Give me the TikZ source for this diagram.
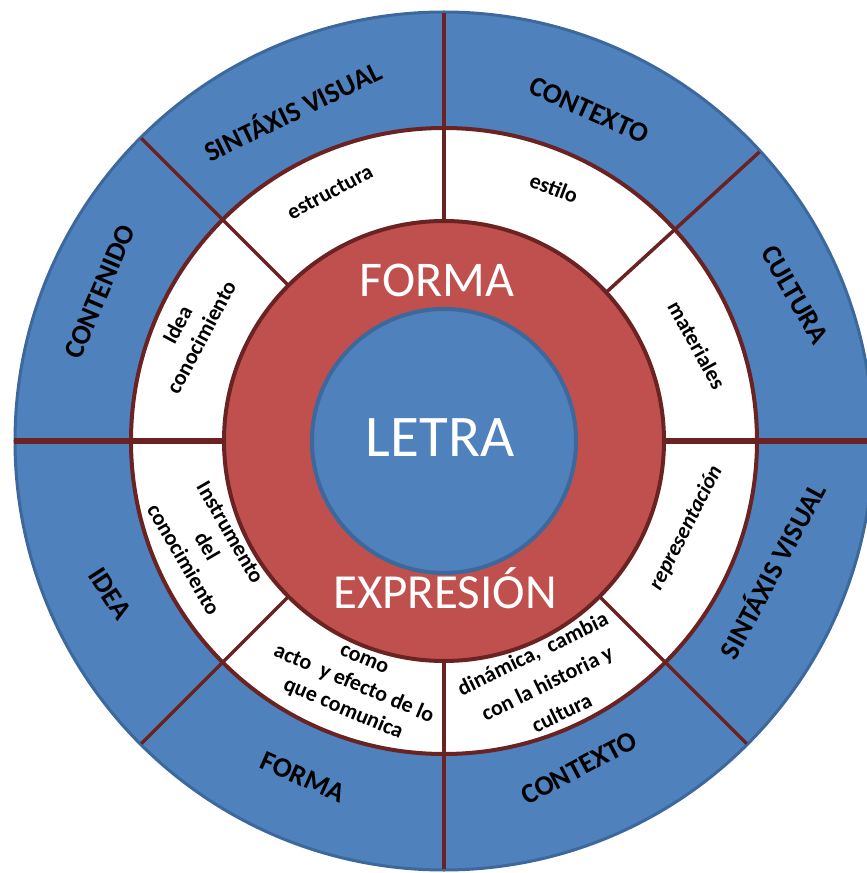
\documentclass[tikz,border=0pt]{standalone}
\usepackage{fontspec}
\setmainfont{Carlito}
\definecolor{fillblue}{RGB}{79,129,189}
\definecolor{edgeblue}{RGB}{60,104,156}
\definecolor{ringred}{RGB}{192,80,77}
\definecolor{darkmaroon}{RGB}{106,35,34}
\begin{document}
\begin{tikzpicture}[x=1pt,y=1pt,
  outerlbl/.style={font=\bfseries\fontsize{28}{32}\selectfont, text=black},
  ringlbl/.style={font=\bfseries\fontsize{22}{27}\selectfont, align=center, text=black},
  divider/.style={draw=darkmaroon, line width=3.5pt},
  bigwhite/.style={text=white, anchor=base}]
\useasboundingbox (-444,-432) rectangle (423,441);
\clip (-444,-432) rectangle (423,441);
\fill[white] (-444,-432) rectangle (423,441);
% outer blue ring
\draw[fill=fillblue, draw=edgeblue, line width=3pt] (0,0) circle (429);
% white ring
\draw[fill=white, draw=darkmaroon, line width=4pt] (0,0) circle (313);
% dividers
\foreach \a in {90,135,225,270,315}
  \draw[divider] (\a:220) -- (\a:428);
\draw[divider] (42.5:220) -- (42.5:428);
\draw[divider, line width=6pt] (0:220) -- (0:430);
\draw[divider, line width=6pt] (180:220) -- (180:430);
% red ring
\draw[fill=ringred, draw=darkmaroon, line width=4pt] (0,0) circle (220);
% centre
\draw[fill=fillblue, draw=edgeblue, line width=4pt] (0,0) circle (132);
% centre texts
\node[bigwhite, font=\fontsize{50}{60}\selectfont] (forma) at (-7,144) {FORMA};
\node[bigwhite, font=\fontsize{59}{70}\selectfont] (letra) at (-4,-15) {LETRA};
\node[bigwhite, font=\fontsize{49}{60}\selectfont] (expresion) at (1,-167) {EXPRESIÓN};
% outer ring labels
\node[outerlbl, rotate=26] (sv1) at (-152,331) {SINTÁXIS VISUAL};
\node[outerlbl, rotate=-24] (ctx1) at (145,331) {CONTEXTO};
\node[outerlbl, rotate=-60] (cul) at (351,146) {CULTURA};
\node[outerlbl, rotate=67] (cont) at (-344,149) {CONTENIDO};
\node[outerlbl, rotate=-57] (idea) at (-334,-153) {IDEA};
\node[outerlbl, rotate=-24] (forma2) at (-141,-336) {FORMA};
\node[outerlbl, rotate=28] (ctx2) at (135,-327) {CONTEXTO};
\node[outerlbl, rotate=62] (sv2) at (327,-129) {SINTÁXIS VISUAL};
% white ring labels
\node[ringlbl, rotate=28] (estr) at (-114,249) {estructura};
\node[ringlbl, rotate=-21] (estilo) at (110,253) {estilo};
\node[ringlbl, rotate=-61] (mat) at (253,96) {materiales};
\node[ringlbl, rotate=62] (ideacon) at (-255,110) {Idea\\conocimiento};
\node[ringlbl, rotate=-60] (instr) at (-237,-105) {Instrumento\\del\\conocimiento};
\node[ringlbl, rotate=-23] (acto) at (-91,-245) {como\\acto\ \ y efecto de lo\\que comunica};
\node[ringlbl, rotate=26, font=\bfseries\fontsize{22}{33}\selectfont] (dina) at (103,-242) {dinámica,\ \ cambia\\con la historia y\\cultura};
\node[ringlbl, rotate=63, font=\bfseries\itshape\fontsize{22}{27}\selectfont] (repr) at (242,-87) {representación};
\end{tikzpicture}
\end{document}
